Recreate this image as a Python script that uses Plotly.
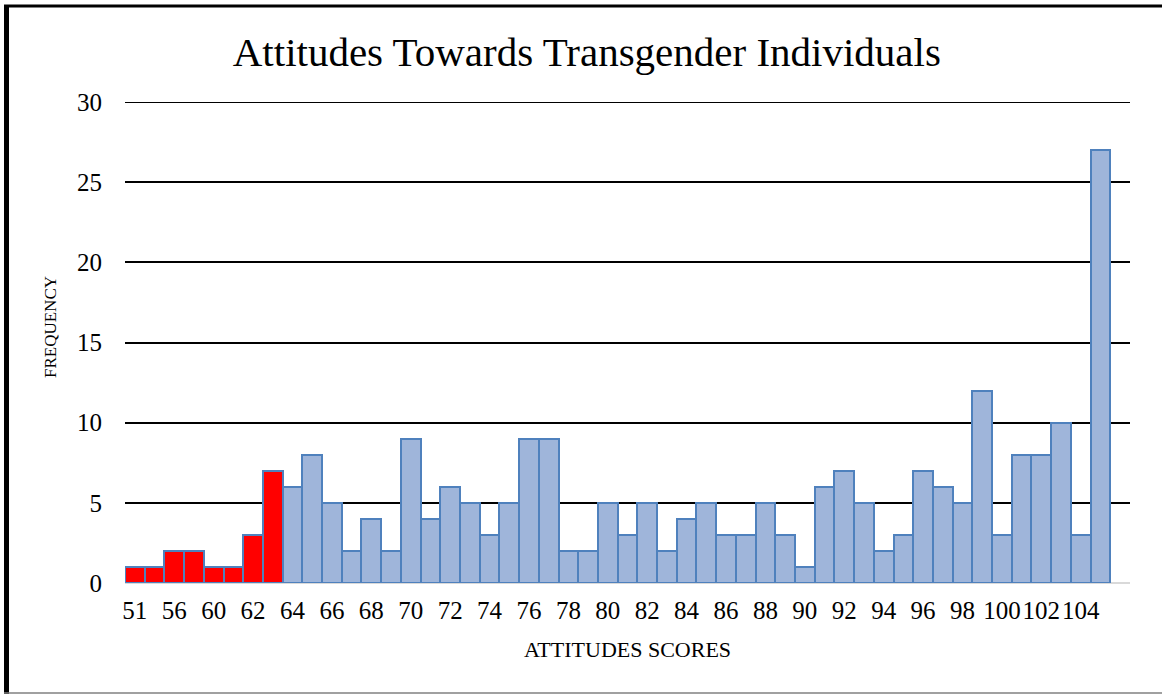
import plotly.graph_objects as go

# Data
categories = ["51", "55", "56", "58", "60", "61", "62", "63",
              "64", "65", "66", "67", "68", "69", "70", "71", "72", "73",
              "74", "75", "76", "77", "78", "79", "80", "81", "82", "83",
              "84", "85", "86", "87", "88", "89", "90", "91", "92", "93",
              "94", "95", "96", "97", "98", "99", "100", "101", "102", "103",
              "104", "105"]
frequency = [1, 1, 2, 2, 1, 1, 3, 7,
             6, 8, 5, 2, 4, 2, 9, 4, 6, 5,
             3, 5, 9, 9, 2, 2, 5, 3, 5, 2,
             4, 5, 3, 3, 5, 3, 1, 6, 7, 5,
             2, 3, 7, 6, 5, 12, 3, 8, 8, 10,
             3, 27]
low_count = 8  # first bars highlighted in red
tick_labels = categories[::2]
y_ticks = [0, 5, 10, 15, 20, 25, 30]

colors = ["#ff0000" if i < low_count else "#9fb5da" for i in range(len(categories))]

FONT = "Liberation Serif"

fig = go.Figure()
fig.add_trace(go.Bar(
    x=categories,
    y=frequency,
    marker=dict(color=colors, line=dict(color="#4f81bd", width=2)),
    showlegend=False,
))

W, H = 1162, 694
ml, mr, mt, mb = 125, 32, 102, 111
pw, ph = W - ml - mr, H - mt - mb

def px_x(X):
    return (X - ml) / pw

def px_y(Y):
    return (H - mb - Y) / ph

fig.update_layout(
    width=W, height=H,
    margin=dict(l=ml, r=mr, t=mt, b=mb),
    paper_bgcolor="white",
    plot_bgcolor="white",
    bargap=0,
    font=dict(family=FONT, color="black"),
    title=dict(text="Attitudes Towards Transgender Individuals",
               font=dict(family=FONT, size=41, color="black"),
               x=0.505, xref="container", xanchor="center",
               y=0.925, yref="container", yanchor="middle"),
    xaxis=dict(
        type="category",
        categoryorder="array", categoryarray=categories,
        range=[-0.5, len(categories) + 0.5],
        tickmode="array", tickvals=tick_labels, ticktext=tick_labels,
        tickfont=dict(family=FONT, size=25, color="black"),
        tickangle=0,
        ticks="", ticklabelstandoff=10,
        showgrid=False, showline=False, zeroline=False,
        title=dict(text="ATTITUDES SCORES",
                   font=dict(family=FONT, size=22, color="black"),
                   standoff=18),
    ),
    yaxis=dict(
        range=[0, 30],
        tickmode="array", tickvals=y_ticks,
        tickfont=dict(family=FONT, size=25, color="black"),
        ticks="", ticklabelstandoff=22,
        showgrid=True, gridcolor="black", gridwidth=2,
        zeroline=True, zerolinecolor="#d9d9d9", zerolinewidth=2,
        showline=False,
    ),
    annotations=[
        dict(text="FREQUENCY", textangle=-90,
             xref="paper", yref="paper", x=px_x(50), y=px_y(327),
             xanchor="center", yanchor="middle", showarrow=False,
             font=dict(family=FONT, size=17, color="black")),
    ],
    shapes=[
        # top gridline (plotly clips the gridline at the range edge)
        dict(type="line", xref="paper", yref="y", layer="below",
             x0=0, x1=1, y0=y_ticks[-1], y1=y_ticks[-1],
             line=dict(color="black", width=2)),
        # top border
        dict(type="line", xref="paper", yref="paper",
             x0=px_x(4), x1=px_x(W), y0=px_y(6), y1=px_y(6),
             line=dict(color="black", width=3)),
        # left border
        dict(type="line", xref="paper", yref="paper",
             x0=px_x(6.5), x1=px_x(6.5), y0=px_y(5), y1=px_y(H),
             line=dict(color="black", width=5)),
        # bottom border
        dict(type="line", xref="paper", yref="paper",
             x0=px_x(4), x1=px_x(W), y0=px_y(693), y1=px_y(693),
             line=dict(color="#808080", width=1.5)),
    ],
)

fig.write_html("out.html",
               config={"displayModeBar": False},
               post_script="document.body.style.margin='0';document.body.style.overflow='hidden';")
